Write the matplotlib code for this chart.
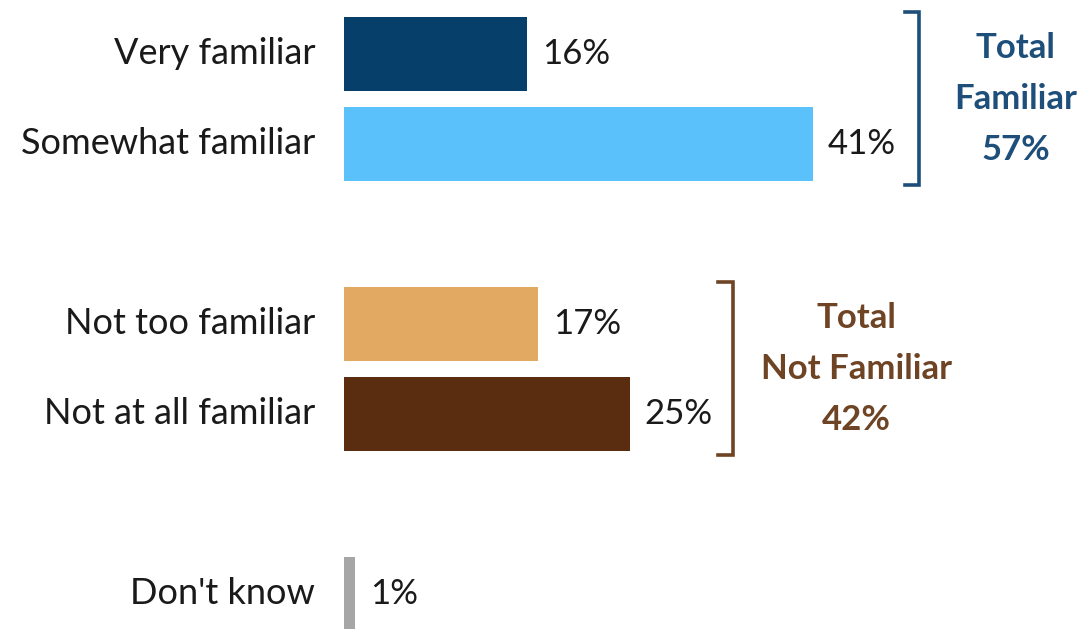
import matplotlib
matplotlib.use("Agg")
from matplotlib import pyplot as plt

plt.rcParams['font.family'] = ['Lato', 'DejaVu Sans']

# survey answers, top to bottom
categories = ["Very familiar", "Somewhat familiar", "Not too familiar",
              "Not at all familiar", "Don't know"]
values     = [16, 41, 17, 25, 1]
rows       = [0, 1, 3, 4, 6]
colors     = ["#053f6a", "#5bc1fa", "#e1a962", "#5a2c10", "#a6a6a6"]

# net groups: (rows covered, label, total, colour)
groups = [
  ([0, 1], "Total\nFamiliar\n57%", 57, "#1d4f7a"),
  ([3, 4], "Total\nNot Familiar\n42%", 42, "#6e4424"),
]

W, H = 1090, 629
fig = plt.figure(figsize=(W/100, H/100), dpi=100)
x0 = 344
ax = fig.add_axes([x0/W, 0, 1 - x0/W, 1])
px = 11.44                       # pixels per percentage point
ax.set_xlim(0, (W - x0)/px)
ax.set_ylim((H - 54)/90, -54/90)
ax.axis('off')

fs = 25
for cat, val, row, col in zip(categories, values, rows, colors):
  ax.barh(row, val, height=0.82, color=col, clip_on=False)
  ax.text(val + 1.3, row, "{:d}%".format(val), va='center', ha='left',
          fontsize=fs, color='#1a1a1a')
  ax.text(-29/px, row, cat, va='center', ha='right', fontsize=26,
          color='#1a1a1a', clip_on=False)

# brackets and net totals
for (rr, label, tot, col), bx, tx in zip(groups, [50.3, 34.0], [58.7, 44.8]):
  top = rr[0] - 0.47
  bot = rr[1] + 0.45
  ax.plot([bx - 1.3, bx, bx, bx - 1.3], [top, top, bot, bot],
          color=col, lw=2.6, solid_joinstyle='miter')
  ax.text(tx, (rr[0] + rr[1]) / 2, label, ha='center', va='center',
          fontsize=fs, fontweight='bold', color=col, linespacing=1.75)

fig.savefig("out.png", dpi=100, facecolor='white')
